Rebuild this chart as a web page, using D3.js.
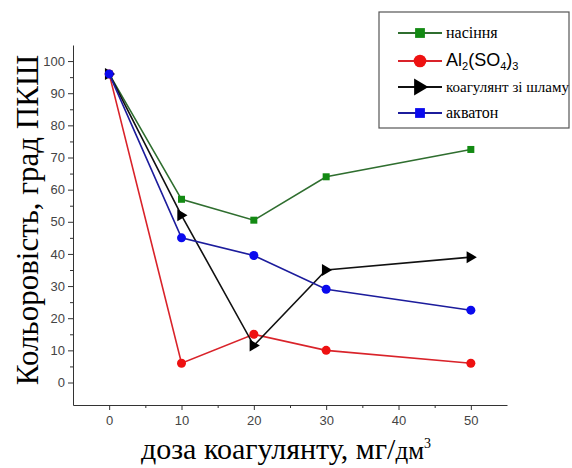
<!doctype html>
<html>
  <head>
    <meta charset="utf-8"/>
    <title>Кольоровість</title>
    <style>
      body, html { margin: 0; padding: 0; background: #fff; }
      .tick text { font-family: "Liberation Sans", Arial, sans-serif; font-size: 13px; fill: #444; }
      .axis path, .axis line { stroke: #333; }
    </style>
    <script src="https://d3js.org/d3.v7.min.js"></script>
  </head>
  <body>
    <svg id="chart" width="572" height="468"></svg>
    <script>
      var doses = [0, 10, 20, 30, 50];
      var nasinnya = [96, 57, 50.5, 64, 72.5];
      var alSulfate = [96, 6, 15, 10, 6];
      var shlam = [96, 52, 11.5, 35, 39];
      var akvaton = [96, 45, 39.5, 29, 22.5];
      var xTicks = [0, 10, 20, 30, 40, 50];
      var yTicks = [0, 10, 20, 30, 40, 50, 60, 70, 80, 90, 100];

      var series = [
        { name: "насіння", values: nasinnya, color: "#2f6e2f", fill: "#138a13", shape: "square", legend: "square" },
        { name: "Al2(SO4)3", values: alSulfate, color: "#d9232a", fill: "#ee1111", shape: "circle", legend: "circle" },
        { name: "коагулянт зі шламу", values: shlam, color: "#111", fill: "#000", shape: "triangle", legend: "triangle" },
        { name: "акватон", values: akvaton, color: "#1c1c9c", fill: "#0a0aee", shape: "circle", legend: "square" }
      ];

      var serif = "'Liberation Serif', 'Times New Roman', serif";
      var svg = d3.select("#chart");

      var x = d3.scaleLinear().domain([-5, 55]).range([73, 507]);
      var y = d3.scaleLinear().domain([-7, 105]).range([405, 45]);

      // minor ticks first
      svg.append("g")
        .attr("class", "axis")
        .attr("transform", "translate(0,405)")
        .call(d3.axisBottom(x).tickValues([5, 15, 25, 35, 45]).tickSize(3).tickFormat(""))
        .select(".domain").remove();
      svg.append("g")
        .attr("class", "axis")
        .attr("transform", "translate(73,0)")
        .call(d3.axisLeft(y).tickValues(d3.range(5, 100, 10)).tickSize(3).tickFormat(""))
        .select(".domain").remove();

      svg.append("g")
        .attr("class", "axis")
        .attr("transform", "translate(0,405)")
        .call(d3.axisBottom(x).tickValues(xTicks).tickSize(5).tickSizeOuter(0).tickPadding(6));
      svg.append("g")
        .attr("class", "axis")
        .attr("transform", "translate(73,0)")
        .call(d3.axisLeft(y).tickValues(yTicks).tickSize(5).tickSizeOuter(0).tickPadding(3));

      svg.append("text")
        .attr("x", 286).attr("y", 459)
        .attr("text-anchor", "middle")
        .style("font-family", serif)
        .style("font-size", "30px")
        .html("доза коагулянту, мг/<tspan font-size='25px'>дм</tspan><tspan dy='-11' font-size='14px'>3</tspan>");

      svg.append("text")
        .attr("transform", "translate(38,220) rotate(-90)")
        .attr("text-anchor", "middle")
        .style("font-family", serif)
        .style("font-size", "31px")
        .text("Кольоровість, град ПКШ");

      var line = d3.line()
        .x(function(d, i) { return x(doses[i]); })
        .y(function(d) { return y(d); });

      function marker(g, shape, fill, cx, cy, scale) {
        scale = scale || 1;
        if (shape === "square") {
          var s = 7 * scale;
          g.append("rect").attr("x", cx - s / 2).attr("y", cy - s / 2)
            .attr("width", s).attr("height", s).attr("fill", fill);
        } else if (shape === "circle") {
          g.append("circle").attr("cx", cx).attr("cy", cy).attr("r", 4.5 * scale).attr("fill", fill);
        } else {
          var h = 6 * scale;
          g.append("path")
            .attr("d", "M" + (cx - h * 0.7) + "," + (cy - h) + "L" + (cx + h) + "," + cy + "L" + (cx - h * 0.7) + "," + (cy + h) + "Z")
            .attr("fill", fill);
        }
      }

      series.forEach(function(s) {
        var g = svg.append("g");
        g.append("path")
          .datum(s.values)
          .attr("d", line)
          .attr("fill", "none")
          .attr("stroke", s.color)
          .attr("stroke-width", 1.6);
        s.values.forEach(function(v, i) {
          marker(g, s.shape, s.fill, x(doses[i]), y(v));
        });
      });

      // legend
      var lg = svg.append("g");
      lg.append("rect")
        .attr("x", 379).attr("y", 12).attr("width", 190).attr("height", 116)
        .attr("fill", "#fff").attr("stroke", "#555").attr("stroke-width", 1.2);
      var rowY = [33, 61, 87, 113];
      series.forEach(function(s, i) {
        lg.append("line")
          .attr("x1", 398).attr("x2", 442).attr("y1", rowY[i]).attr("y2", rowY[i])
          .attr("stroke", s.color).attr("stroke-width", 2.2);
        marker(lg, s.legend, s.fill, 420, rowY[i], 1.4);
        var t = lg.append("text")
          .attr("x", 446).attr("y", rowY[i] + 5);
        if (i === 1) {
          t.style("font-family", "'Liberation Sans', Arial, sans-serif").style("font-size", "18px")
            .html("Al<tspan dy='4' font-size='11px'>2</tspan><tspan dy='-4'>(SO</tspan><tspan dy='4' font-size='11px'>4</tspan><tspan dy='-4'>)</tspan><tspan dy='4' font-size='11px'>3</tspan>");
        } else {
          t.style("font-family", serif).style("font-size", i === 2 ? "15px" : "16px")
            .text(s.name);
        }
      });
    </script>
  </body>
</html>
